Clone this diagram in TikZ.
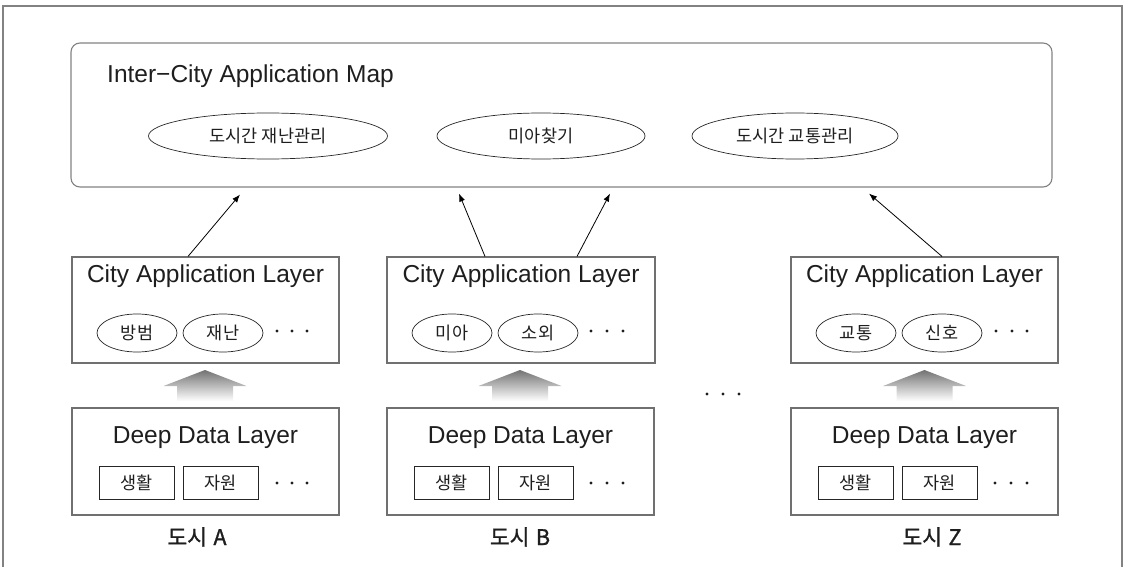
\documentclass[tikz,border=0pt]{standalone}
\usepackage{fontspec}
\setmainfont{Liberation Sans}
\newfontfamily\kr{Noto Sans CJK KR}
\newfontfamily\krm[FakeBold=1.2]{Noto Sans CJK KR}
\usetikzlibrary{arrows.meta,calc,shapes.geometric}
\definecolor{boxgray}{RGB}{112,112,112}
\definecolor{framegray}{RGB}{130,130,130}
\definecolor{txt}{RGB}{30,30,30}
\begin{document}
\begin{tikzpicture}[x=1pt,y=-1pt,
  frameline/.style={draw=framegray,line width=1.3pt},
  topbox/.style={draw=framegray,line width=1.1pt,rounded corners=9pt,minimum width=981pt,minimum height=144pt,inner sep=0pt},
  layerbox/.style={draw=boxgray,line width=1.1pt,minimum width=267pt,minimum height=106pt,inner sep=0pt},
  bigell/.style={ellipse,draw=black!85,line width=0.7pt,minimum height=46pt,inner sep=0pt,font=\kr\fontsize{17.5}{20}\selectfont,text=txt},
  smallell/.style={ellipse,draw=black!85,line width=0.7pt,minimum width=80pt,minimum height=38pt,inner sep=0pt,font=\kr\fontsize{17.5}{20}\selectfont,text=txt},
  datacell/.style={rectangle,draw=black!85,line width=0.8pt,minimum width=75pt,minimum height=33pt,inner sep=0pt,font=\kr\fontsize{17.5}{20}\selectfont,text=txt},
  ttl/.style={font=\fontsize{24.5}{28}\selectfont,text=txt,inner sep=0pt,anchor=base},
  citylbl/.style={font=\krm\fontsize{21.5}{25}\selectfont,text=txt,inner sep=0pt,anchor=base},
  conn/.style={draw=black,line width=0.8pt,-{Latex[length=8pt,width=6pt]}},
  bigarrow/.style={top color=black!55,bottom color=white,draw=none},
  dot/.style={fill=txt}
]
\useasboundingbox (0,0) rectangle (1124,567);
% outer frame
\draw[frameline] (3,580) -- (3,6) -- (1122,6) -- (1122,580);

% top map
\node[topbox] (top) at (561.5,115) {};
\node[font=\fontsize{24.5}{28}\selectfont,text=txt,inner sep=0pt,anchor=base west] (maptitle) at (107,83) {Inter−City Application Map};
\node[bigell,minimum width=239pt] (e1) at (268,136) {도시간 재난관리};
\node[bigell,minimum width=208pt] (e2) at (541,136) {미아찾기};
\node[bigell,minimum width=206pt] (e3) at (795,136) {도시간 교통관리};

% city application layers
\node[layerbox] (cA) at (205.5,310) {};
\node[layerbox,minimum width=268pt] (cB) at (521,310) {};
\node[layerbox] (cZ) at (924.5,310) {};
\node[ttl] (tcA) at (205.5,282) {City Application Layer};
\node[ttl] (tcB) at (521,282) {City Application Layer};
\node[ttl] (tcZ) at (924.5,282) {City Application Layer};

\node[smallell] (sA1) at (137,333) {방범};
\node[smallell] (sA2) at (223,333) {재난};
\node[smallell] (sB1) at (452,333) {미아};
\node[smallell] (sB2) at (538,333) {소외};
\node[smallell] (sZ1) at (856,333) {교통};
\node[smallell] (sZ2) at (942,333) {신호};

\foreach \x in {277,292,307,591,607,623,996,1012,1027} \fill[dot] (\x,331) circle (1.7pt);

% deep data layers
\node[layerbox,minimum height=107pt] (dA) at (205.5,461.5) {};
\node[layerbox,minimum height=107pt] (dB) at (520.5,461.5) {};
\node[layerbox,minimum height=107pt] (dZ) at (924.5,461.5) {};
\node[ttl] (tdA) at (205.5,443) {Deep Data Layer};
\node[ttl] (tdB) at (520.5,443) {Deep Data Layer};
\node[ttl] (tdZ) at (924.5,443) {Deep Data Layer};

\node[datacell] (rA1) at (136.5,482.5) {생활};
\node[datacell] (rA2) at (220.5,482.5) {자원};
\node[datacell] (rB1) at (451.5,482.5) {생활};
\node[datacell] (rB2) at (535.5,482.5) {자원};
\node[datacell] (rZ1) at (855.5,482.5) {생활};
\node[datacell] (rZ2) at (939.5,482.5) {자원};

\foreach \x in {277,292,307,591,607,623,995,1011,1027} \fill[dot] (\x,483) circle (1.7pt);
\foreach \x in {707,723,739} \fill[dot] (\x,394) circle (1.7pt);

% city labels
\node[citylbl] (lA) at (197,545) {도시\hspace{0.3em}A};
\node[citylbl] (lB) at (520,545) {도시\hspace{0.3em}B};
\node[citylbl] (lZ) at (932,545) {도시\hspace{0.3em}Z};

% gray block arrows (data -> application)
\foreach \c in {205,520,924.5}{
  \shade[bigarrow] (\c,370) -- (\c+41.5,386) -- (\c+28,386) -- (\c+28,401) -- (\c-28,401) -- (\c-28,386) -- (\c-41.5,386) -- cycle;
}

% connectors to inter-city map
\draw[conn] ([xshift=-17.5pt]cA.north) -- ([xshift=-321.5pt,yshift=-7pt]top.south);
\draw[conn] ([xshift=-36pt]cB.north) -- ([xshift=-102.5pt,yshift=-6pt]top.south);
\draw[conn] ([xshift=56pt]cB.north) -- ([xshift=48.5pt,yshift=-6pt]top.south);
\draw[conn] ([xshift=17.5pt]cZ.north) -- ([xshift=307.5pt,yshift=-6pt]top.south);
\end{tikzpicture}
\end{document}
